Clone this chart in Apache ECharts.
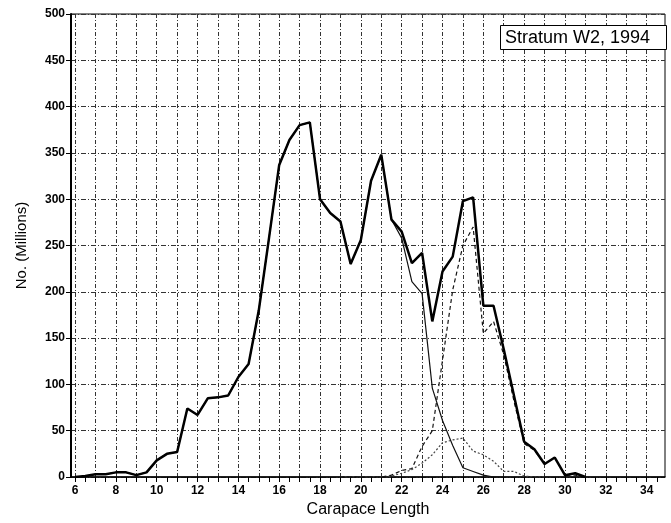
<!DOCTYPE html>
<html>
<head>
<meta charset="utf-8">
<title>Stratum W2, 1994</title>
<script src="https://cdn.jsdelivr.net/npm/echarts@6/dist/echarts.min.js"></script>
<style>
  html, body { margin: 0; padding: 0; background: #fff; }
  #chart { width: 671px; height: 523px; }
</style>
</head>
<body>
<div id="chart"></div>
<script>
// Carapace length classes (half-unit steps) and the observed total
const lengths = [6, 6.5, 7, 7.5, 8, 8.5, 9, 9.5, 10, 10.5, 11, 11.5, 12, 12.5, 13, 13.5,
  14, 14.5, 15, 15.5, 16, 16.5, 17, 17.5, 18, 18.5, 19, 19.5, 20, 20.5, 21, 21.5,
  22, 22.5, 23, 23.5, 24, 24.5, 25, 25.5, 26, 26.5, 27, 27.5, 28, 28.5, 29, 29.5,
  30, 30.5, 31];
const totalCounts = [0, 1, 3, 3, 5, 5, 2, 5, 18, 25, 27, 74, 67, 85, 86, 88,
  108, 122, 180, 258, 337, 364, 380, 383, 300, 285, 276, 230, 256, 320, 348, 278,
  265, 231, 242, 168, 222, 238, 298, 302, 185, 185, 138, 88, 38, 30, 14, 21,
  2, 4, 0];

// First fitted component (thin solid)
const comp1Lengths = [6, 6.5, 7, 7.5, 8, 8.5, 9, 9.5, 10, 10.5, 11, 11.5, 12, 12.5, 13, 13.5,
  14, 14.5, 15, 15.5, 16, 16.5, 17, 17.5, 18, 18.5, 19, 19.5, 20, 20.5, 21, 21.5,
  22, 22.5, 23, 23.5, 24, 24.5, 25, 25.5, 26, 26.5, 27];
const comp1Counts = [0, 1, 3, 3, 5, 5, 2, 5, 18, 25, 27, 74, 67, 85, 86, 88,
  108, 122, 180, 258, 337, 364, 380, 383, 300, 285, 276, 230, 256, 320, 348, 278,
  258, 211, 198, 96, 61, 34, 10, 6, 2, 0, 0];

// Second fitted component (dashed)
const comp2Lengths = [19, 19.5, 20, 20.5, 21, 21.5, 22, 22.5, 23, 23.5, 24, 24.5, 25, 25.5,
  26, 26.5, 27, 27.5, 28, 28.5, 29, 29.5, 30, 30.5, 31];
const comp2Counts = [0, 0, 0, 0, 0, 2, 7, 9, 33, 50, 126, 202, 250, 270,
  155, 168, 132, 82, 36, 29, 14, 21, 2, 2, 0];

// Third fitted component (dotted)
const comp3Lengths = [19, 19.5, 20, 20.5, 21, 21.5, 22, 22.5, 23, 23.5, 24, 24.5, 25, 25.5,
  26, 26.5, 27, 27.5, 28, 28.5, 29];
const comp3Counts = [0, 0, 0, 0, 0, 1, 4, 8, 15, 24, 37, 40, 42, 28,
  24, 17, 6, 6, 1, 0, 0];

// Axis ticks
const xLabelValues = [6, 8, 10, 12, 14, 16, 18, 20, 22, 24, 26, 28, 30, 32, 34];
const xMinorTicks = [6, 6.5, 7, 7.5, 8, 8.5, 9, 9.5, 10, 10.5, 11, 11.5, 12, 12.5, 13, 13.5,
  14, 14.5, 15, 15.5, 16, 16.5, 17, 17.5, 18, 18.5, 19, 19.5, 20, 20.5, 21, 21.5,
  22, 22.5, 23, 23.5, 24, 24.5, 25, 25.5, 26, 26.5, 27, 27.5, 28, 28.5, 29, 29.5,
  30, 30.5, 31, 31.5, 32, 32.5, 33, 33.5, 34, 34.5];
const xGridValues = [6, 7, 8, 9, 10, 11, 12, 13, 14, 15, 16, 17, 18, 19, 20, 21, 22, 23,
  24, 25, 26, 27, 28, 29, 30, 31, 32, 33, 34];

const pairs = (xs, ys) => xs.map((x, i) => [x, ys[i]]);
const FONT = "'Liberation Sans', Arial, Helvetica, sans-serif";
const X_MIN = 5.8, X_MAX = 34.9;

const chart = echarts.init(document.getElementById('chart'), null, { renderer: 'canvas' });
chart.setOption({
  animation: false,
  backgroundColor: '#fff',
  title: {
    text: 'Stratum W2, 1994',
    left: 500,
    top: 25,
    padding: [4, 17, 3, 5],
    backgroundColor: '#fff',
    borderColor: '#000',
    borderWidth: 1,
    textStyle: { fontFamily: FONT, fontSize: 18, fontWeight: 'normal', color: '#000' }
  },
  grid: {
    left: 71, right: 6, top: 14, bottom: 46,
    containLabel: false,
    outerBoundsMode: 'none',
    show: true, borderColor: '#000', borderWidth: 1, backgroundColor: 'transparent'
  },
  xAxis: [
    {
      type: 'value',
      min: X_MIN, max: X_MAX,
      position: 'bottom',
      name: 'Carapace Length',
      nameLocation: 'middle',
      nameGap: 25,
      nameTextStyle: { fontFamily: FONT, fontSize: 16, color: '#000' },
      axisLine: { show: true, lineStyle: { color: '#000', width: 1.5 } },
      axisTick: { show: true, inside: false, length: 5, customValues: xMinorTicks,
                  lineStyle: { color: '#000', width: 1 } },
      axisLabel: { customValues: xLabelValues, margin: 8, color: '#000',
                   fontFamily: FONT, fontSize: 12, fontWeight: 'bold',
                   formatter: v => String(Math.round(v)) },
      splitLine: { show: false }
    },
    {
      // carries the vertical grid lines at every whole length
      type: 'value',
      min: X_MIN, max: X_MAX,
      position: 'top',
      axisLine: { show: false },
      axisTick: { show: false, customValues: xGridValues },
      axisLabel: { show: false },
      splitLine: { show: true, lineStyle: { color: '#333', width: 1, type: [4, 2, 1, 2] } }
    }
  ],
  yAxis: {
    type: 'value',
    min: 0, max: 500, interval: 50,
    name: 'No. (Millions)',
    nameLocation: 'middle',
    nameGap: 42,
    nameTextStyle: { fontFamily: FONT, fontSize: 15, color: '#000' },
    axisLine: { show: true, lineStyle: { color: '#000', width: 2 } },
    axisTick: { show: true, length: 5, lineStyle: { color: '#000' } },
    axisLabel: { margin: 6, color: '#000', fontFamily: FONT, fontSize: 12, fontWeight: 'bold' },
    splitLine: { show: true, lineStyle: { color: '#333', width: 1, type: [5, 2, 1, 2] } }
  },
  series: [
    {
      name: 'Component 3', type: 'line', xAxisIndex: 0,
      data: pairs(comp3Lengths, comp3Counts), showSymbol: false,
      lineStyle: { color: '#444', width: 1.2, type: [2, 2] }, z: 2
    },
    {
      name: 'Component 2', type: 'line', xAxisIndex: 0,
      data: pairs(comp2Lengths, comp2Counts), showSymbol: false,
      lineStyle: { color: '#111', width: 1.2, type: [4, 3] }, z: 3
    },
    {
      name: 'Component 1', type: 'line', xAxisIndex: 0,
      data: pairs(comp1Lengths, comp1Counts), showSymbol: false,
      lineStyle: { color: '#111', width: 1.2 }, z: 4
    },
    {
      name: 'Total', type: 'line', xAxisIndex: 0,
      data: pairs(lengths, totalCounts), showSymbol: false,
      lineStyle: { color: '#000', width: 2.5 }, z: 5
    }
  ]
});
</script>
</body>
</html>
